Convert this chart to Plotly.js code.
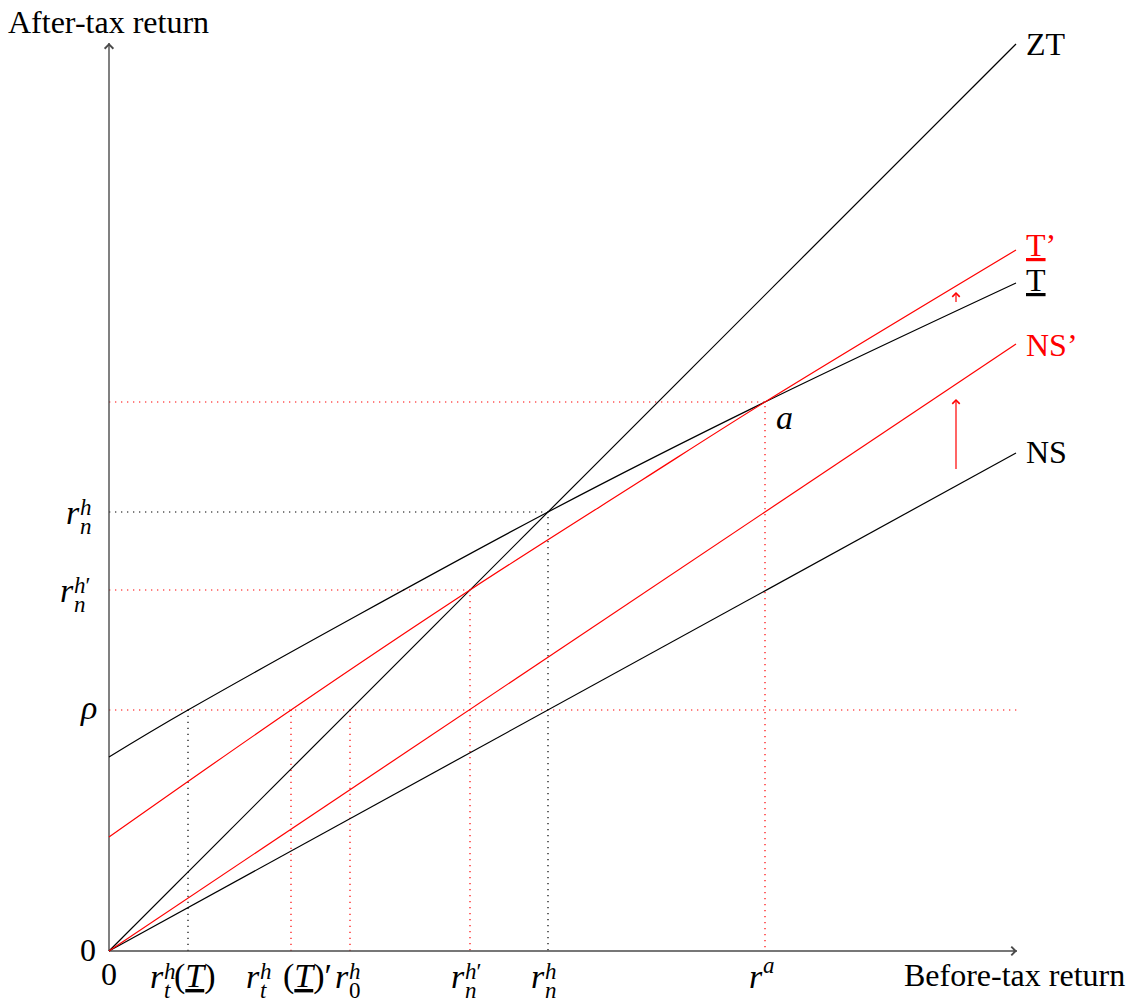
<!DOCTYPE html>
<html>
<head>
<meta charset="utf-8">
<script src="https://cdn.plot.ly/plotly-3.0.1.min.js"></script>
<style>
  html, body { margin: 0; padding: 0; background: #fff; }
  #chart { width: 1140px; height: 1008px; }
</style>
</head>
<body>
<div id="chart"></div>
<script>
// Schedules: before-tax return (x) against after-tax return (y)
const ztX = [0, 9.07];
const ztY = [0, 9.07];
const nsX = [0, 9.07];
const nsY = [0, 4.98];
const nsPrimeX = [0, 9.07];
const nsPrimeY = [0, 6.07];
const tX = [0, 0.79, 4.39, 6.56, 9.07];
const tY = [1.94, 2.41, 4.39, 5.49, 6.68];
const tPrimeX = [0, 1.82, 3.61, 5.33, 6.56, 9.07];
const tPrimeY = [1.14, 2.41, 3.61, 4.71, 5.49, 7.01];

// Reference levels and crossing points
const rho = 2.41;
const rnh = 4.39;        // ZT meets T
const rnhPrime = 3.61;   // ZT meets T'
const rtT = 0.79;        // T reaches rho
const rtTPrime = 1.82;   // T' reaches rho
const r0h = 2.41;        // ZT reaches rho
const ra = 6.56;         // T meets T'
const aLevel = 5.49;
const axisEnd = 9.08;

// Upward shift arrows
const shiftArrowX = 8.47;
const nsShift = [4.80, 5.52];
const tShift = [6.47, 6.59];

const BLACK = '#000000';
const RED = '#ff0000';
const AXIS = '#4a4a4a';
const DOT = '1.3px,4.7px';
const SERIF = 'Liberation Serif, Times New Roman, serif';
const TEXT_SIZE = 32;
const MATH_SIZE = 34;
const SCRIPT_SIZE = 23;

function guide(xs, ys, color) {
  return { x: xs, y: ys, mode: 'lines', hoverinfo: 'skip',
           line: { color: color, width: 1.2, dash: DOT } };
}
function curve(xs, ys, color, smooth) {
  return { x: xs, y: ys, mode: 'lines', hoverinfo: 'skip',
           line: { color: color, width: 1.2, shape: smooth ? 'spline' : 'linear', smoothing: 1 } };
}

const traces = [
  // dotted guides
  guide([0, axisEnd], [rho, rho], RED),
  guide([rtT, rtT], [0, rho], BLACK),
  guide([rtTPrime, rtTPrime], [0, rho], RED),
  guide([r0h, r0h], [0, rho], RED),
  guide([0, rnhPrime, rnhPrime], [rnhPrime, rnhPrime, 0], RED),
  guide([0, rnh, rnh], [rnh, rnh, 0], BLACK),
  guide([0, ra, ra], [aLevel, aLevel, 0], RED),
  // axes
  { x: [0, axisEnd], y: [0, 0], mode: 'lines', hoverinfo: 'skip', line: { color: AXIS, width: 1.4 } },
  { x: [0, 0], y: [0, axisEnd], mode: 'lines', hoverinfo: 'skip', line: { color: AXIS, width: 1.4 } },
  // schedules
  curve(nsX, nsY, BLACK),
  curve(ztX, ztY, BLACK),
  curve(tX, tY, BLACK, true),
  curve(nsPrimeX, nsPrimeY, RED),
  curve(tPrimeX, tPrimeY, RED, true)
];

function arrow(x, y, ax, ay, color, width, size) {
  return { x: x, y: y, ax: ax, ay: ay, xref: 'x', yref: 'y', axref: 'x', ayref: 'y',
           text: ' ', font: { size: 1 }, showarrow: true, arrowhead: 4,
           arrowsize: size, arrowwidth: width, arrowcolor: color, standoff: 0, startstandoff: 0 };
}
function txt(x, y, text, opts) {
  const base = { x: x, y: y, xref: 'x', yref: 'y', text: text, showarrow: false,
                 xanchor: 'left', yanchor: 'middle', borderpad: 0, borderwidth: 0,
                 font: { family: SERIF, size: TEXT_SIZE, color: BLACK } };
  return Object.assign(base, opts || {});
}
function mathTxt(x, y, text, dx, dy) {
  return txt(x, y, text, { xshift: dx, yshift: dy, font: { family: SERIF, size: MATH_SIZE, color: BLACK } });
}
function script(x, y, text, dx, dy) {
  return txt(x, y, text, { xshift: dx, yshift: dy, font: { family: SERIF, size: SCRIPT_SIZE, color: BLACK } });
}
// r with stacked superscript / subscript, followed by optional trailing text
function mathLabel(x, y, dx, dy, sup, sub, rest, restDx, supLift) {
  const out = [mathTxt(x, y, '<i>r</i>', dx, dy)];
  if (sup) out.push(script(x, y, sup, dx + 14, dy + (supLift || 5)));
  if (sub) out.push(script(x, y, sub, dx + 14, dy - 14));
  if (rest) out.push(mathTxt(x, y, rest, restDx, dy));
  return out;
}

const underT = '(<u><i>T</i></u>)';
const annotations = [
  arrow(axisEnd, 0, axisEnd - 0.05, 0, AXIS, 1.4, 1.2),
  arrow(0, axisEnd, 0, axisEnd - 0.05, AXIS, 1.4, 1.2),
  arrow(shiftArrowX, nsShift[1], shiftArrowX, nsShift[0], RED, 1.2, 1.2),
  arrow(shiftArrowX, tShift[1], shiftArrowX, tShift[0], RED, 1.2, 1.2),

  // axis titles
  txt(0, 9.29, 'After-tax return', { xref: 'paper', xshift: -1 }),
  txt(7.97, -0.24, 'Before-tax return', { xshift: -2 }),

  // schedule names
  txt(ztX[1], ztY[1], 'ZT', { xshift: 10, yshift: 0 }),
  txt(tPrimeX[tPrimeX.length - 1], tPrimeY[tPrimeY.length - 1], '<u>T</u>’',
      { xshift: 10, yshift: 5, font: { family: SERIF, size: TEXT_SIZE, color: RED } }),
  txt(tX[tX.length - 1], tY[tY.length - 1], '<u>T</u>', { xshift: 10, yshift: 3 }),
  txt(nsPrimeX[1], nsPrimeY[1], 'NS’',
      { xshift: 10, yshift: -1, font: { family: SERIF, size: TEXT_SIZE, color: RED } }),
  txt(nsX[1], nsY[1], 'NS', { xshift: 10, yshift: 1 }),
  mathTxt(ra, aLevel, '<i>a</i>', 11, -15),

  // origin and vertical-axis labels
  txt(0, 0, '0', { xanchor: 'center', yshift: -23 }),
  txt(0, 0, '0', { xshift: -29, yshift: 1 }),
  mathTxt(0, rho, '<i>ρ</i>', -29, 3)
]
  .concat(mathLabel(0, rnh, -43, 0, '<i>h</i>', '<i>n</i>'))
  .concat(mathLabel(0, rnhPrime, -49, 0, '<i>h</i>′', '<i>n</i>'))
  // horizontal-axis labels
  .concat(mathLabel(rtT, 0, -38, -25, '<i>h</i>', '<i>t</i>', underT, -14))
  .concat(mathLabel(rtTPrime, 0, -45, -25, '<i>h</i>', '<i>t</i>', underT + '′', -8))
  .concat(mathLabel(r0h, 0, -15, -25, '<i>h</i>', '0'))
  .concat(mathLabel(rnhPrime, 0, -19, -25, '<i>h</i>′', '<i>n</i>'))
  .concat(mathLabel(rnh, 0, -17, -25, '<i>h</i>', '<i>n</i>'))
  .concat(mathLabel(ra, 0, -16, -25, '<i>a</i>', null, null, 0, 11));

const layout = {
  width: 1140,
  height: 1008,
  margin: { l: 9, r: 31, t: 1, b: 7, pad: 0 },
  paper_bgcolor: '#ffffff',
  plot_bgcolor: '#ffffff',
  showlegend: false,
  xaxis: { range: [-1, 10], visible: false, fixedrange: true },
  yaxis: { range: [-0.5, 9.5], visible: false, fixedrange: true },
  annotations: annotations
};

Plotly.newPlot('chart', traces, layout, { staticPlot: true, displayModeBar: false });
</script>
</body>
</html>
